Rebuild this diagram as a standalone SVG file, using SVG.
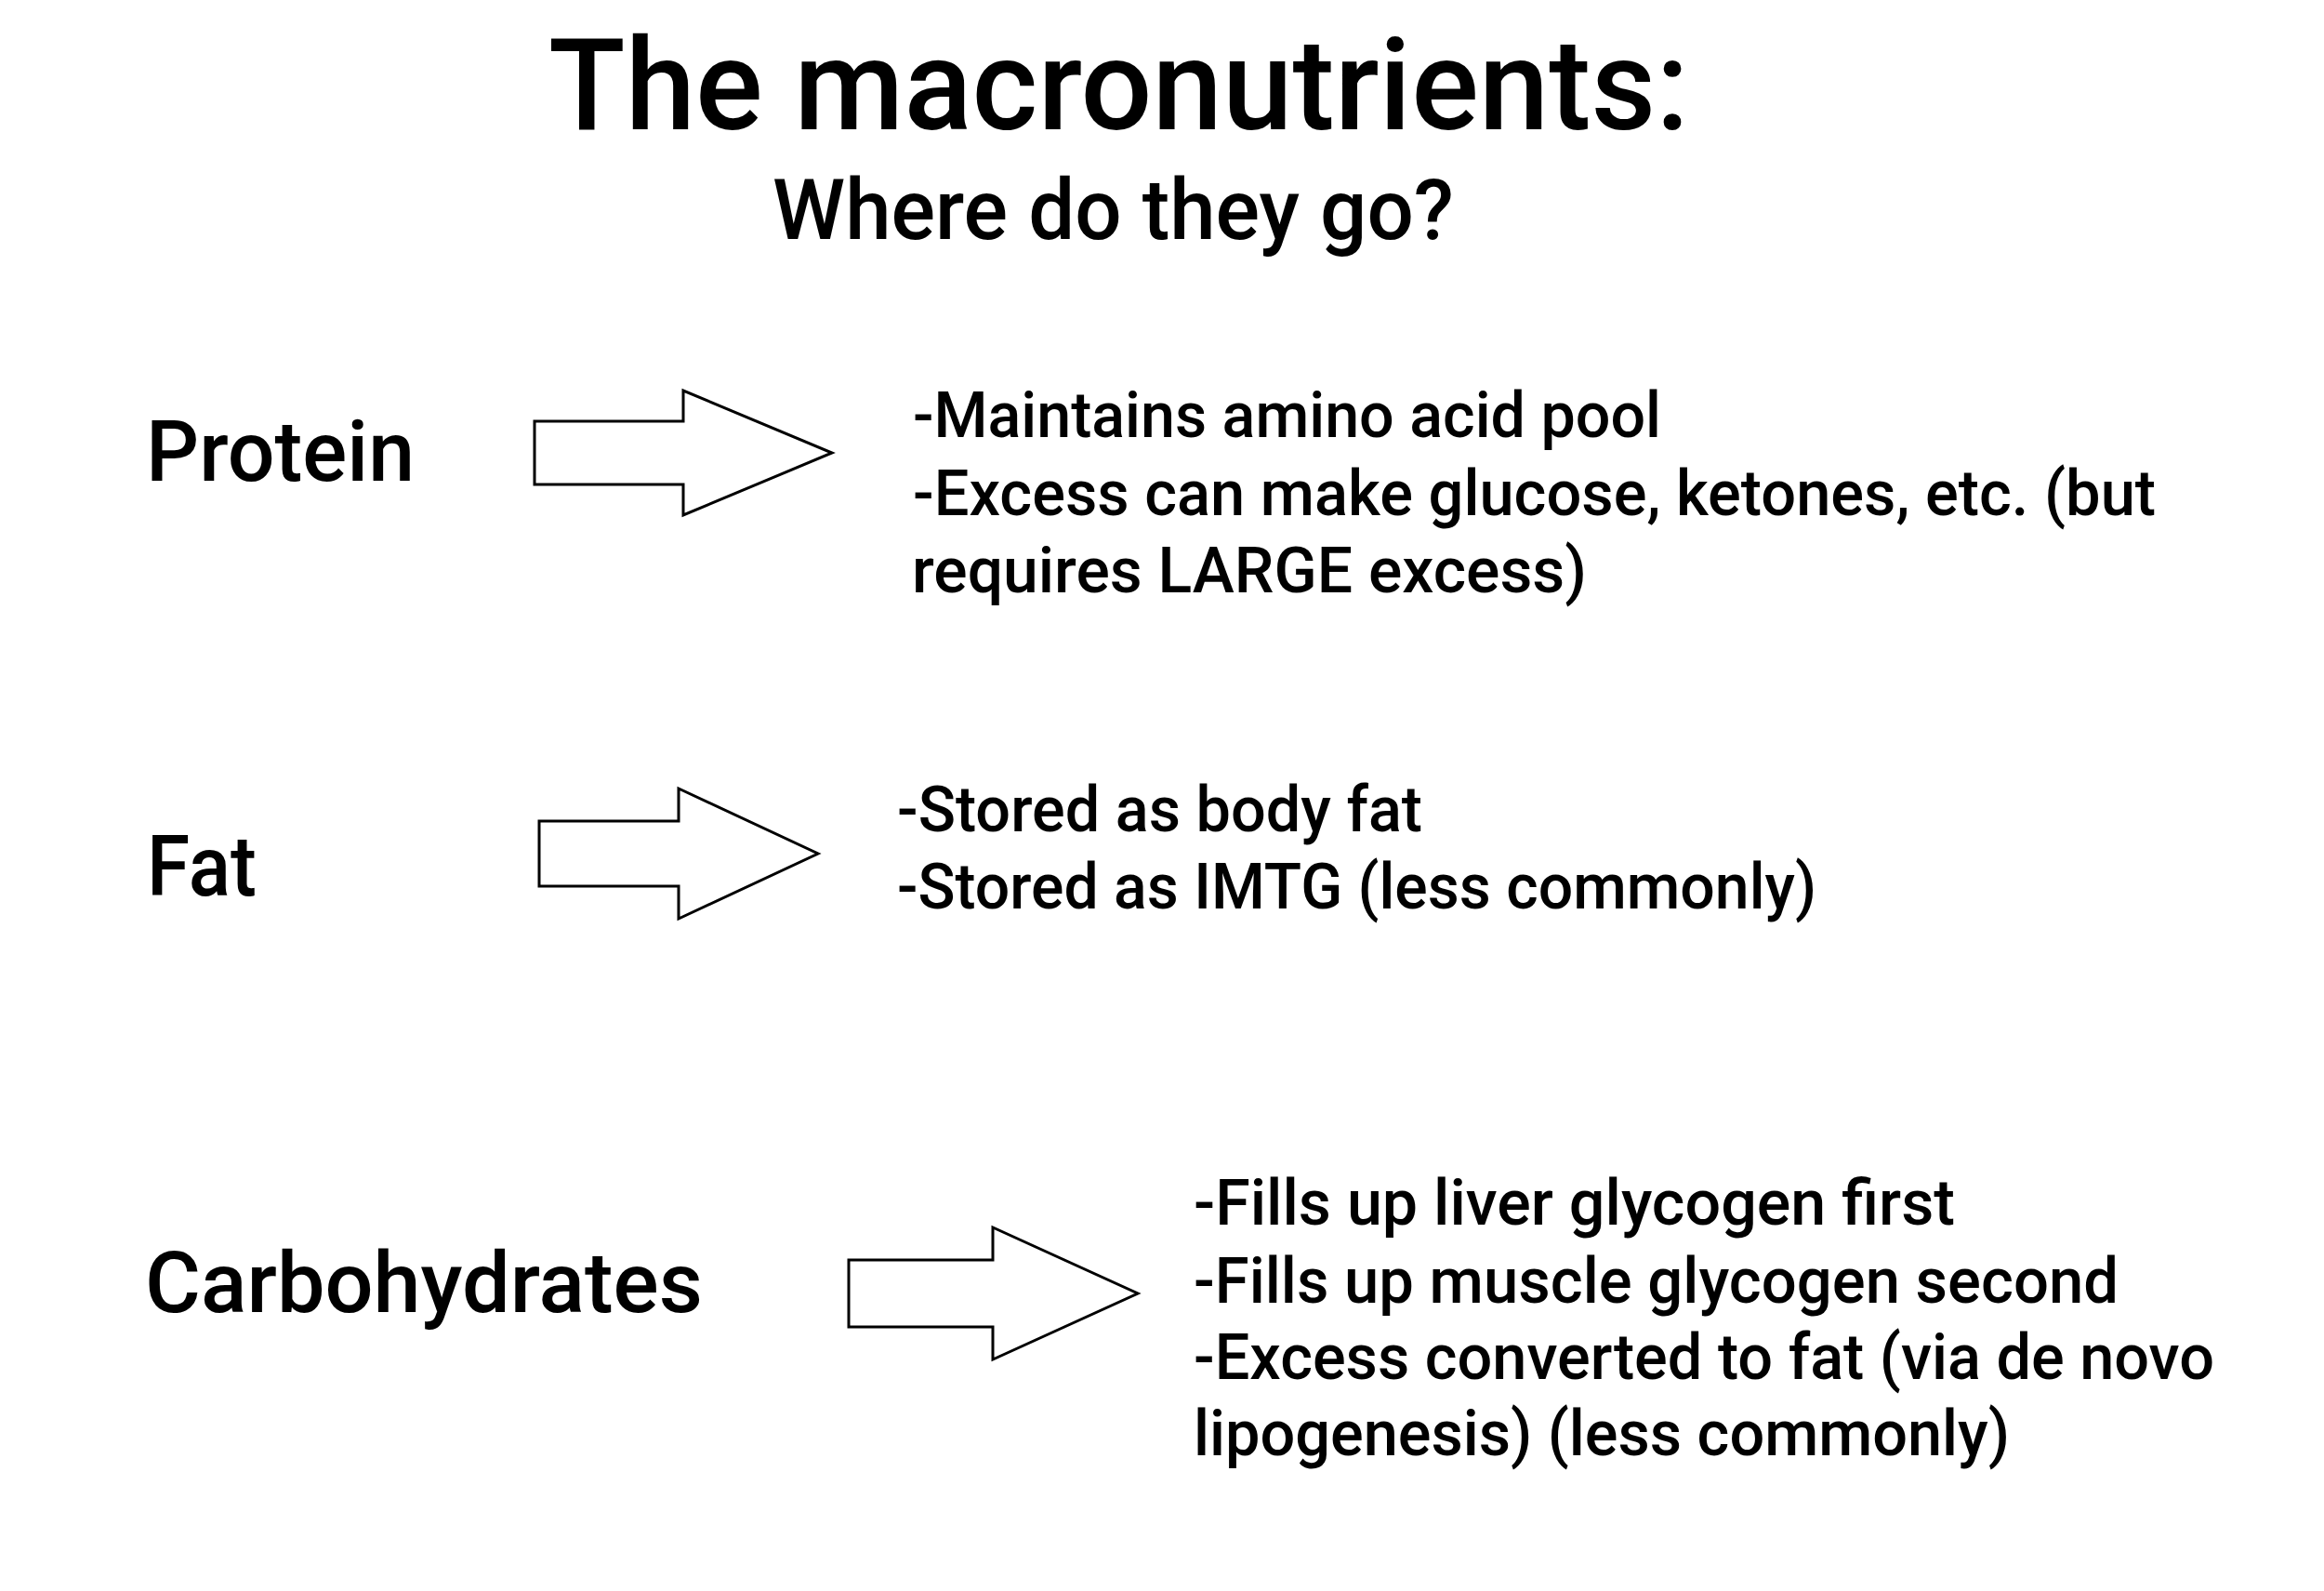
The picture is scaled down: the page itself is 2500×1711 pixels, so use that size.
<svg xmlns="http://www.w3.org/2000/svg" width="2500" height="1711" viewBox="0 0 2500 1711">
  <style>
    text { font-family: Roboto, "Liberation Sans", Arial, sans-serif; fill: #000; }
    .title { font-size: 138px; font-weight: 500; }
    .sub { font-size: 91px; font-weight: 500; }
    .label { font-size: 91px; font-weight: 500; }
    .body { font-size: 69px; font-weight: 500; }
    .arrow { fill: #fff; stroke: #000; stroke-width: 3; stroke-linejoin: miter; }
  </style>
  <rect x="0" y="0" width="2500" height="1711" fill="#fff"/>

  <g id="title">
    <text class="title" x="590" y="139" textLength="1227" lengthAdjust="spacingAndGlyphs">The macronutrients:</text>
    <text class="sub" x="831" y="257" textLength="733" lengthAdjust="spacingAndGlyphs">Where do they go?</text>
  </g>

  <g id="protein">
    <text class="label" x="157" y="517" textLength="289" lengthAdjust="spacingAndGlyphs">Protein</text>
  </g>
  <g id="protein-fate">
    <text class="body" x="982" y="470" textLength="805" lengthAdjust="spacingAndGlyphs">-Maintains amino acid pool</text>
    <text class="body" x="982" y="554" textLength="1337" lengthAdjust="spacingAndGlyphs">-Excess can make glucose, ketones, etc. (but</text>
    <text class="body" x="981" y="637" textLength="726" lengthAdjust="spacingAndGlyphs">requires LARGE excess)</text>
  </g>

  <g id="fat">
    <text class="label" x="158" y="963" textLength="118" lengthAdjust="spacingAndGlyphs">Fat</text>
  </g>
  <g id="fat-fate">
    <text class="body" x="965" y="894" textLength="565" lengthAdjust="spacingAndGlyphs">-Stored as body fat</text>
    <text class="body" x="965" y="977" textLength="989" lengthAdjust="spacingAndGlyphs">-Stored as IMTG (less commonly)</text>
  </g>

  <g id="carbohydrates">
    <text class="label" x="156" y="1411" textLength="600" lengthAdjust="spacingAndGlyphs">Carbohydrates</text>
  </g>
  <g id="carbohydrates-fate">
    <text class="body" x="1284" y="1317" textLength="819" lengthAdjust="spacingAndGlyphs">-Fills up liver glycogen first</text>
    <text class="body" x="1284" y="1401" textLength="995" lengthAdjust="spacingAndGlyphs">-Fills up muscle glycogen second</text>
    <text class="body" x="1284" y="1483" textLength="1098" lengthAdjust="spacingAndGlyphs">-Excess converted to fat (via de novo</text>
    <text class="body" x="1284" y="1565" textLength="878" lengthAdjust="spacingAndGlyphs">lipogenesis) (less commonly)</text>
  </g>

  <g id="connectors">
    <polygon class="arrow" points="575,453 735,453 735,420 895,487 735,554 735,521 575,521"/>
    <polygon class="arrow" points="580,883 730,883 730,848 880,918 730,988 730,953 580,953"/>
    <polygon class="arrow" points="913,1355 1068,1355 1068,1320 1224,1391 1068,1462 1068,1427 913,1427"/>
  </g>
</svg>
